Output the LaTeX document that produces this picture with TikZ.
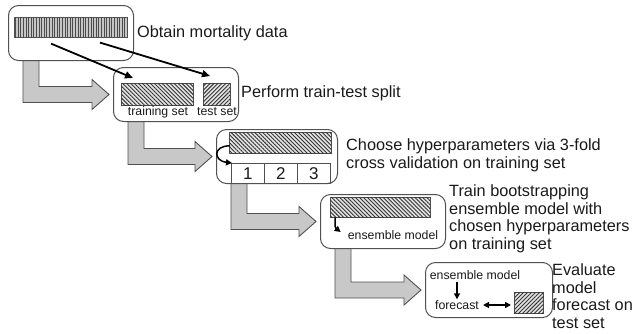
\documentclass[tikz,border=0pt]{standalone}
\usepackage{fontspec}
\setmainfont{Liberation Sans}
\usetikzlibrary{arrows.meta,patterns.meta,calc}
\definecolor{arrowgray}{HTML}{C8C8C8}
\definecolor{edgegray}{HTML}{505050}
\definecolor{txt}{HTML}{1A1A1A}
\pgfdeclarelayer{bg}
\pgfsetlayers{bg,main}
\newcommand\fatarr[2]{%
  \begin{pgfonlayer}{bg}
  \path[fatarrow] let \p1=(#1.south west), \p2=(#2.west) in
    (\x1+15pt,\y1+4pt) -- (\x1+31pt,\y1+4pt) -- (\x1+31pt,\y2+8pt) --
    (\x2-21pt,\y2+8pt) -- (\x2-21pt,\y2+15pt) -- (\x2-4pt,\y2) --
    (\x2-21pt,\y2-15pt) -- (\x2-21pt,\y2-8pt) -- (\x1+15pt,\y2-8pt) -- cycle;
  \end{pgfonlayer}}
\begin{document}
\begin{tikzpicture}[x=1pt,y=-1pt,
  stagebox/.style={draw=edgegray, line width=1pt, rounded corners=10pt, fill=white,
    inner sep=0, anchor=north west},
  fatarrow/.style={fill=arrowgray, draw=edgegray, line width=0.9pt, line join=miter},
  hatchbase/.style={draw=edgegray, line width=0.6pt, fill=gray!22, inner sep=0, anchor=north west},
  hatchNW/.style={hatchbase, postaction={pattern={Lines[angle=-45,distance=2.8pt,line width=0.9pt]}, pattern color=black!80}},
  hatchNE/.style={hatchbase, postaction={pattern={Lines[angle=45,distance=2.8pt,line width=0.9pt]}, pattern color=black!80}},
  hatchV/.style={draw=edgegray, line width=0.6pt, fill=gray!45, inner sep=0, anchor=north west,
    postaction={pattern={Lines[angle=90,distance=2.6pt,line width=1pt]}, pattern color=black!70}},
  cell/.style={draw=edgegray, line width=0.6pt, inner sep=0, anchor=north west,
    minimum width=33pt, minimum height=20pt, font=\fontsize{17}{17}\selectfont, text=txt},
  lab/.style={font=\fontsize{16.3}{17.5}\selectfont, text=txt, inner sep=0, align=left, anchor=west},
  small/.style={font=\fontsize{12.3}{14}\selectfont, text=txt, inner sep=0},
  conn/.style={line width=1.8pt, -{Triangle[length=8pt,width=7pt]}},
  sconn/.style={line width=1.5pt, -{Triangle[length=6pt,width=6pt]}},
  dconn/.style={line width=1.6pt, {Triangle[length=6pt,width=6pt]}-{Triangle[length=6pt,width=6pt]}}
]
\useasboundingbox (0,0) rectangle (636,333);

% stage 1
\node[stagebox, minimum width=125pt, minimum height=55pt] (b1) at (8,5) {};
\node[hatchV, minimum width=113pt, minimum height=20pt] (bars) at (14,17) {};
\node[lab] (t1) at (137,33) {Obtain mortality data};

% stage 2
\node[stagebox, minimum width=125pt, minimum height=54pt] (b2) at (113,67) {};
\node[hatchNW, minimum width=72pt, minimum height=22pt] (train) at (121,83) {};
\node[hatchNE, minimum width=27pt, minimum height=22pt] (test) at (203,83) {};
\node[small] (trl) at (158,112) {training set};
\node[small] (tel) at (217,112) {test set};
\node[lab] (t2) at (241,93) {Perform train-test split};

\coordinate (s1) at ($(bars.south west)+(37,6)$);
\coordinate (s2) at ($(bars.south west)+(86,5)$);
\coordinate (e1) at ($(train.north west)+(12,-5)$);
\coordinate (e2) at ($(test.north west)+(7,-7)$);
\draw[conn] (s1) -- (e1);
\draw[conn] (s2) -- (e2);

% stage 3
\node[stagebox, minimum width=121pt, minimum height=54pt] (b3) at (216,129) {};
\node[hatchNW, minimum width=102pt, minimum height=21pt] (h3) at (229,132) {};
\node[cell] (c1) at (231,163) {1};
\node[cell] (c2) at (264,163) {2};
\node[cell] (c3) at (297,163) {3};
\node[lab] (t3) at (346,155.5) {Choose hyperparameters via 3-fold\\cross validation on training set};
\coordinate (cs) at ($(h3.west)+(1,3)$);
\coordinate (ce) at ($(c1.north west)+(1,0)$);
\draw[sconn] (cs) .. controls +(-18,0) and +(-18,-2) .. (ce);

% stage 4
\node[stagebox, minimum width=125pt, minimum height=54pt] (b4) at (320,194) {};
\node[hatchNW, minimum width=100pt, minimum height=20pt] (h4) at (330,197) {};
\node[small] (em4) at (393,235) {ensemble model};
\node[lab] (t4) at (449,219) {Train bootstrapping\\ensemble model with\\chosen hyperparameters\\on training set};
\coordinate (ms) at ($(h4.south west)+(5,0)$);
\coordinate (me) at ($(em4.west)+(-7,-3)$);
\draw[sconn] (ms) .. controls +(0,10) .. (me);

% stage 5
\node[stagebox, minimum width=127pt, minimum height=55pt] (b5) at (425,262) {};
\node[small] (em5) at (475,275) {ensemble model};
\node[small] (fc) at (457,305) {forecast};
\node[hatchNE, minimum width=29pt, minimum height=21pt] (h5) at (514,292) {};
\node[lab] (t5) at (552,296) {Evaluate\\model\\forecast on\\test set};
\draw[sconn, shorten <=2pt, shorten >=1pt] (em5.south -| fc.north) -- (fc.north);
\draw[dconn, shorten <=4pt, shorten >=3pt] (fc.east) -- (fc.east -| h5.west);

% big arrows
\fatarr{b1}{b2}
\fatarr{b2}{b3}
\fatarr{b3}{b4}
\fatarr{b4}{b5}
\end{tikzpicture}
\end{document}
